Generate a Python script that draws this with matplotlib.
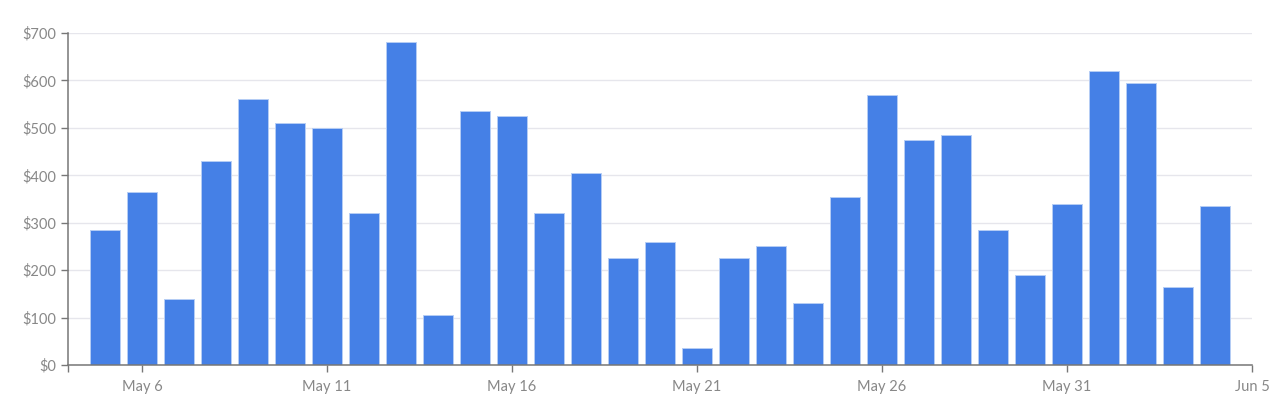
import pandas as pd
import matplotlib.pyplot as plt
import matplotlib.dates as mdates

start_day = '2019-05-05'
values = [285, 365, 140, 430, 560, 510, 500, 320, 680, 105, 535,
          525, 320, 405, 225, 260, 35, 225, 250, 130, 355, 570,
          475, 485, 285, 190, 340, 620, 595, 165, 335]
y_ticks = [0, 100, 200, 300, 400, 500, 600, 700]
x_tick_days = ['2019-05-04', '2019-05-06', '2019-05-11', '2019-05-16',
               '2019-05-21', '2019-05-26', '2019-05-31', '2019-06-05']
x_tick_labels = ['', 'May 6', 'May 11', 'May 16', 'May 21', 'May 26',
                 'May 31', 'Jun 5']


def main():
  plt.close('all')
  plt.rcParams['font.family'] = ['Lato', 'DejaVu Sans']

  days = pd.date_range(start_day, periods=len(values))
  grey = '#888888'

  fig = plt.figure(figsize=(12.8, 4.16), dpi=100)
  ax = fig.add_axes([68/1280, 1 - 365/416, (1252-68)/1280, (365-33)/416])

  ax.bar(days, values, width=0.8, color='#4580e6',
         edgecolor='#b5cdf5', linewidth=0.7, zorder=3)

  ax.set_ylim(0, 700)
  ax.set_yticks(y_ticks)
  ax.set_yticklabels(['$%d' % v for v in y_ticks])
  ax.set_xlim(pd.Timestamp('2019-05-04'), pd.Timestamp('2019-06-05'))
  ax.set_xticks([pd.Timestamp(d) for d in x_tick_days])
  ax.set_xticklabels(x_tick_labels)

  ax.grid(axis='y', color='#e6e6ec', linewidth=1, zorder=0)
  for s in ['top', 'right']:
    ax.spines[s].set_visible(False)
  for s in ['left', 'bottom']:
    ax.spines[s].set_color('#777777')
    ax.spines[s].set_linewidth(1.1)
    ax.spines[s].set_zorder(4)
  ax.tick_params(colors='#777777', labelcolor=grey, labelsize=10.5,
                 length=5, width=1)
  ax.tick_params(axis='x', pad=6)

  fig.savefig('out.png', dpi=100)


if __name__ == "__main__":
  main()
